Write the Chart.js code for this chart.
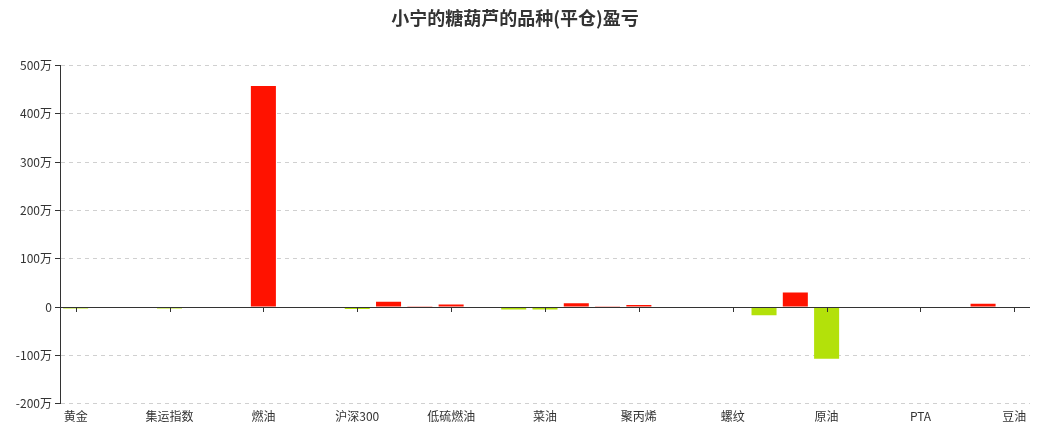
<!DOCTYPE html>
<html>
<head>
<meta charset="utf-8">
<script src="https://cdn.jsdelivr.net/npm/chart.js@4/dist/chart.umd.min.js"></script>
<style>
  html, body { margin: 0; padding: 0; background: #fff; }
</style>
</head>
<body>
<canvas id="chart" width="1057" height="432"></canvas>
<script>
// 品种（只在每隔两个的位置显示名称）
const categories = [
    '黄金', '', '', '集运指数', '', '', '燃油', '', '', '沪深300', '',
    '', '低硫燃油', '', '', '菜油', '', '', '聚丙烯', '', '',
    '螺纹', '', '', '原油', '', '', 'PTA', '', '', '豆油'
];

// 平仓盈亏，单位：万元
const profitWan = [
    -3, -2, 0, -3, 0, -1, 458, 0, 0, -4, 11,
    1.5, 5, -1.5, -5, -5, 8, 1.5, 4, 0, 0,
    0, -17, 30, -107, 1, 0, 0, 0, 7, 0
];

const yTicks = [-200, -100, 0, 100, 200, 300, 400, 500];

const RED = '#ff1200';
const GREEN = '#b3e10a';

// 零轴上的刻度线（每隔三个品种一条）
const zeroTicks = {
    id: 'zeroTicks',
    afterDatasetsDraw(chart) {
        const {ctx, scales: {x, y}} = chart;
        const y0 = Math.round(y.getPixelForValue(0));
        ctx.save();
        ctx.strokeStyle = '#333';
        ctx.lineWidth = 1;
        ctx.beginPath();
        ctx.moveTo(x.left, y0 + 0.5);
        ctx.lineTo(x.right, y0 + 0.5);
        for (let i = 0; i < categories.length; i += 3) {
            const px = Math.round(x.getPixelForValue(i)) + 0.5;
            ctx.moveTo(px, y0);
            ctx.lineTo(px, y0 + 5);
        }
        ctx.stroke();
        ctx.restore();
    }
};

const ctx = document.getElementById('chart').getContext('2d');
new Chart(ctx, {
    type: 'bar',
    data: {
        labels: categories,
        datasets: [{
            data: profitWan,
            backgroundColor: profitWan.map(v => v >= 0 ? RED : GREEN),
            barPercentage: 0.8,
            categoryPercentage: 1.0
        }]
    },
    options: {
        responsive: false,
        animation: false,
        layout: { padding: { top: 0, right: 27, bottom: 10, left: 0 } },
        plugins: {
            legend: { display: false },
            tooltip: { enabled: false },
            title: {
                display: true,
                text: '小宁的糖葫芦的品种(平仓)盈亏',
                color: '#333',
                font: { family: 'Noto Sans CJK SC', size: 18, weight: 'bold' },
                padding: { top: 7, bottom: 37 }
            }
        },
        scales: {
            x: {
                grid: { display: false },
                border: { display: false },
                ticks: {
                    autoSkip: false,
                    maxRotation: 0,
                    color: '#333',
                    padding: -2,
                    font: { family: 'Noto Sans CJK SC', size: 12 },
                    callback: (v, i) => categories[i]
                }
            },
            y: {
                min: -200,
                max: 500,
                afterBuildTicks: s => { s.ticks = yTicks.map(v => ({ value: v })); },
                afterFit: s => { s.width = 60; },
                border: { display: true, color: '#333', dash: [4, 4] },
                grid: {
                    color: c => c.tick.value === 0 ? 'rgba(0,0,0,0)' : '#d0d0d0',
                    tickColor: '#333',
                    tickLength: 5,
                    tickBorderDash: [1, 0]
                },
                ticks: {
                    autoSkip: false,
                    color: '#333',
                    padding: 3,
                    font: { family: 'Noto Sans CJK SC', size: 12 },
                    callback: v => v === 0 ? '0' : v + '万'
                }
            }
        }
    },
    plugins: [zeroTicks]
});
</script>
</body>
</html>
